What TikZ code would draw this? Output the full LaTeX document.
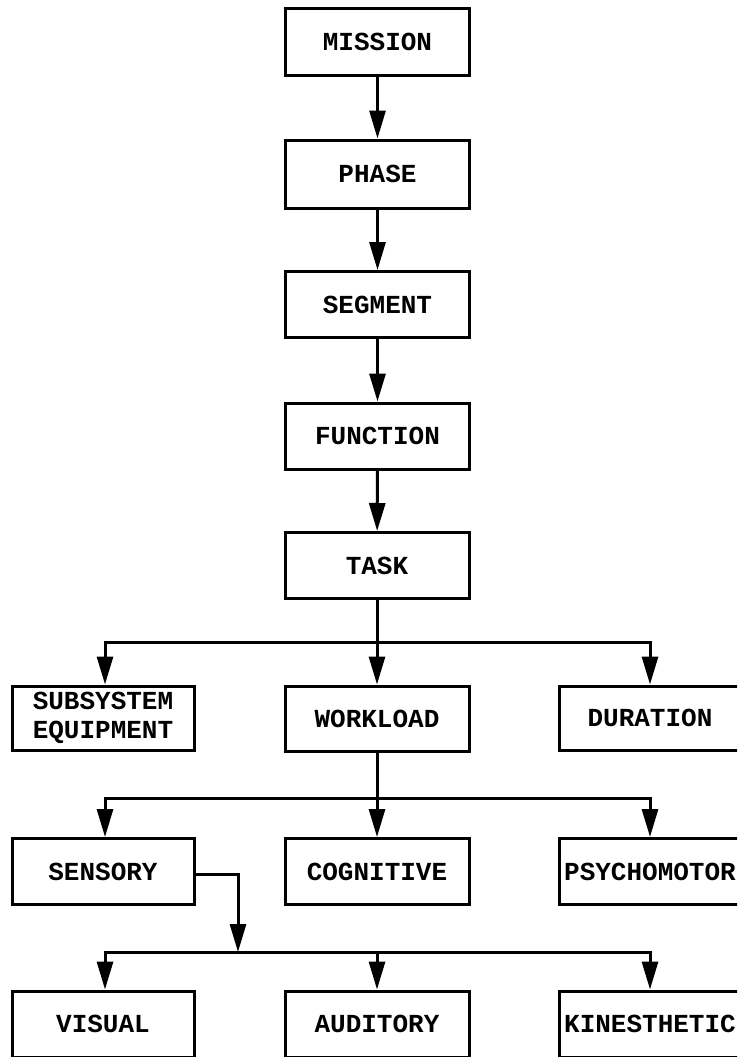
\documentclass[tikz,border=0pt]{standalone}
\usepackage{fontspec}
\newfontfamily\typewr{Liberation Mono}
\usetikzlibrary{arrows.meta}

\tikzset{
  block/.style={draw, line width=3pt, minimum width=184pt, minimum height=66pt,
    inner sep=3pt, align=center, font=\typewr\bfseries\fontsize{26}{29}\selectfont},
  flow/.style={line width=3pt, -{Triangle[length=28pt,width=16pt]}},
  link/.style={line width=3pt}
}

\begin{document}
\begin{tikzpicture}[x=1pt,y=-1pt]
  \clip (0,0) rectangle (737,1057);
  \fill[white] (0,0) rectangle (737,1057);

  \node[block] (mission) at (377.5,42) {MISSION};
  \node[block, minimum height=68pt] (phase) at (377.5,174) {PHASE};
  \node[block] (segment) at (377.5,304.5) {SEGMENT};
  \node[block] (function) at (377.5,436) {FUNCTION};
  \node[block] (task) at (377,565.5) {TASK};

  \node[block, minimum width=182pt, minimum height=64pt] (subsystem) at (103,718) {SUBSYSTEM\\EQUIPMENT};
  \node[block, minimum height=65pt] (workload) at (377,718.5) {WORKLOAD};
  \node[block, minimum width=182pt, minimum height=64pt] (duration) at (650,718) {DURATION};

  \node[block, minimum width=182pt] (sensory) at (103,871.5) {SENSORY};
  \node[block] (cognitive) at (377,871.5) {COGNITIVE};
  \node[block, minimum width=182pt] (psychomotor) at (650,871.5) {PSYCHOMOTOR};

  \node[block, minimum width=182pt] (visual) at (103,1024) {VISUAL};
  \node[block] (auditory) at (377,1024) {AUDITORY};
  \node[block, minimum width=182pt] (kinesthetic) at (650,1024) {KINESTHETIC};

  \coordinate (taskjoin) at (377,642);
  \coordinate (workjoin) at (377,798.5);
  \coordinate (sensejoin) at (238,952);

  \draw[flow] (mission) -- (phase);
  \draw[flow] (phase) -- (segment);
  \draw[flow] (segment) -- (function);
  \draw[flow] (function) -- (task);

  \draw[flow] (task) -- (workload);
  \draw[flow] (taskjoin) -| ([xshift=2pt]subsystem.north);
  \draw[flow] (taskjoin) -| (duration.north);

  \draw[flow] (workload) -- (cognitive);
  \draw[flow] (workjoin) -| ([xshift=2pt]sensory.north);
  \draw[flow] (workjoin) -| (psychomotor.north);

  \draw[flow] ([yshift=-2.5pt]sensory.east) -| (sensejoin);
  \draw[flow] (sensejoin) -| ([xshift=2pt]visual.north);
  \draw[flow] (sensejoin) -| (kinesthetic.north);
  \draw[flow] (sensejoin -| auditory.north) -- (auditory.north);
\end{tikzpicture}
\end{document}
